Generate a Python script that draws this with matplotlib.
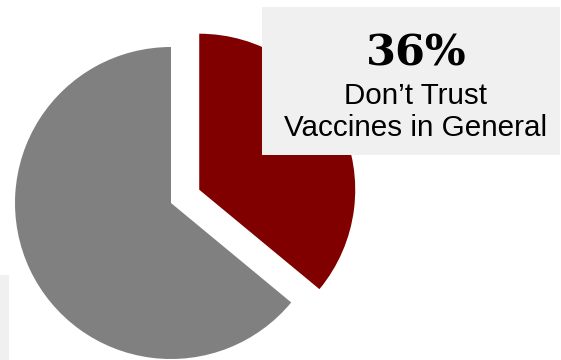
import matplotlib.pyplot as plt
from matplotlib.patches import Rectangle

W, H = 561, 360

shares = [36, 64]
colors = ["#800000", "#808080"]
explode = [0.2, 0]
big_label = "36%"
caption = "Don\u2019t Trust\nVaccines in General"

fig = plt.figure(figsize=(W / 100, H / 100), dpi=100)
ax = fig.add_axes([0, 0, 1, 1])

ax.pie(shares, colors=colors, explode=explode, startangle=90,
       counterclock=False, wedgeprops=dict(linewidth=0))

# put the unit pie at pixel centre (171, 203), radius 156
cx, cy, r = 171, 203, 156
ax.set_xlim(-cx / r, (W - cx) / r)
ax.set_ylim(-(H - cy) / r, cy / r)
ax.set_aspect("equal")
ax.axis("off")


def px(x, y):
    return x / W, 1 - y / H


# label box top right
fig.patches.append(Rectangle(px(262, 155), 298 / W, 148 / H,
                             transform=fig.transFigure, facecolor="#f0f0f0",
                             edgecolor="none", zorder=3))
# small grey box bottom left
fig.patches.append(Rectangle(px(0, 360), 9 / W, 85 / H,
                             transform=fig.transFigure, facecolor="#f0f0f0",
                             edgecolor="none", zorder=0))

fig.text(*px(416, 53), big_label, ha="center", va="center", fontsize=31,
         fontweight="bold", family="DejaVu Serif", zorder=4)
fig.text(*px(416, 112), caption, ha="center", va="center", fontsize=21.3,
         family="Liberation Sans", linespacing=1.17, zorder=4)

fig.savefig("out.png", dpi=100)
